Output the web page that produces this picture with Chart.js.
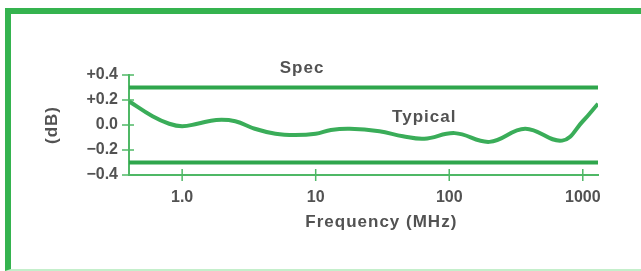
<!DOCTYPE html>
<html>
<head>
<meta charset="utf-8">
<script src="https://cdn.jsdelivr.net/npm/chart.js@4"></script>
<style>
  html, body { margin: 0; padding: 0; background: #fff; overflow: hidden; }
  #wrap { position: relative; width: 641px; height: 271px; }
  #frame {
    position: absolute; left: 5px; top: 8px; width: 700px; height: 255px;
    border-top: 6px solid #35b34f; border-left: 6px solid #35b34f;
    border-bottom: 2px solid #c4efcb;
  }
  canvas { position: absolute; left: 0; top: 0; }
</style>
</head>
<body>
<div id="wrap">
  <div id="frame"></div>
  <canvas id="chart" width="641" height="271"></canvas>
</div>
<script>
// frequency (MHz) and typical response (dB)
const freqs = [0.4, 0.6, 0.8, 1.0, 1.3, 1.8, 2.5, 3.5, 5, 7, 10, 13, 18, 30, 45, 65, 110, 200, 370, 700, 1000, 1300];
const typical = [0.19, 0.07, 0.01, -0.01, 0.01, 0.04, 0.03, -0.03, -0.07, -0.08, -0.07, -0.04, -0.03, -0.05, -0.09, -0.11, -0.065, -0.135, -0.03, -0.125, 0.03, 0.17];
const specLimits = [0.3, -0.3];
const xTickValues = [1, 10, 100, 1000];
const xTickLabels = ['1.0', '10', '100', '1000'];
const yTickValues = [-0.4, -0.2, 0, 0.2, 0.4];
const yTickLabels = ['\u22120.4', '\u22120.2', '0.0', '+0.2', '+0.4'];

const green = '#2fa64c';
const axisGreen = '#4fb866';
const textColor = '#525252';
const font = '"Liberation Sans", Arial, sans-serif';

// tick marks that cross the axis, plus the text labels
const crossTicks = {
  id: 'crossTicks',
  afterDraw(chart) {
    const { ctx, scales: { x, y }, chartArea } = chart;
    ctx.save();
    ctx.strokeStyle = axisGreen;
    ctx.lineWidth = 1.5;
    yTickValues.forEach(v => {
      const py = y.getPixelForValue(v);
      ctx.beginPath();
      ctx.moveTo(chartArea.left - 7, py);
      ctx.lineTo(chartArea.left + 5, py);
      ctx.stroke();
    });
    xTickValues.forEach(v => {
      const px = x.getPixelForValue(v);
      ctx.beginPath();
      ctx.moveTo(px, chartArea.bottom - 6);
      ctx.lineTo(px, chartArea.bottom + 6);
      ctx.stroke();
    });
    ctx.fillStyle = textColor;
    ctx.font = 'bold 17px ' + font;
    ctx.letterSpacing = '1px';
    ctx.textAlign = 'center';
    ctx.textBaseline = 'middle';
    ctx.fillText('Spec', x.getPixelForValue(7.9), y.getPixelForValue(0.45));
    ctx.fillText('Typical', x.getPixelForValue(65), y.getPixelForValue(0.065));
    ctx.fillText('Frequency (MHz)', x.getPixelForValue(31), 222);
    ctx.translate(52, y.getPixelForValue(0));
    ctx.rotate(-Math.PI / 2);
    ctx.fillText('(dB)', 0, 0);
    ctx.restore();
  }
};

new Chart(document.getElementById('chart'), {
  type: 'line',
  data: {
    datasets: [
      {
        label: 'Spec +',
        data: [{ x: freqs[0], y: specLimits[0] }, { x: freqs[freqs.length - 1], y: specLimits[0] }],
        borderColor: green, borderWidth: 4, pointRadius: 0
      },
      {
        label: 'Spec -',
        data: [{ x: freqs[0], y: specLimits[1] }, { x: freqs[freqs.length - 1], y: specLimits[1] }],
        borderColor: green, borderWidth: 4, pointRadius: 0
      },
      {
        label: 'Typical',
        data: freqs.map((f, i) => ({ x: f, y: typical[i] })),
        borderColor: '#3aad59', borderWidth: 4, pointRadius: 0,
        tension: 0.4
      }
    ]
  },
  options: {
    responsive: false,
    animation: false,
    layout: { padding: { left: 0, top: 75, right: 43, bottom: 0 } },
    plugins: { legend: { display: false }, tooltip: { enabled: false } },
    scales: {
      x: {
        type: 'logarithmic',
        min: 0.4, max: 1300,
        afterBuildTicks: s => { s.ticks = xTickValues.map(v => ({ value: v })); },
        afterFit: s => { s.height = 96; },
        ticks: {
          color: textColor, font: { family: font, size: 16, weight: 'bold' }, padding: 13,
          autoSkip: false, maxRotation: 0,
          callback: (v) => xTickLabels[xTickValues.indexOf(v)]
        },
        grid: { display: false, drawTicks: false },
        border: { color: axisGreen, width: 2 }
      },
      y: {
        min: -0.4, max: 0.4,
        afterBuildTicks: s => { s.ticks = yTickValues.map(v => ({ value: v })); },
        afterFit: s => { s.width = 129; },
        ticks: {
          color: textColor, font: { family: font, size: 16, weight: 'bold' }, padding: 11,
          callback: (v) => yTickLabels[yTickValues.findIndex(t => Math.abs(t - v) < 1e-9)]
        },
        grid: { display: false, drawTicks: false },
        border: { color: axisGreen, width: 2 }
      }
    }
  },
  plugins: [crossTicks]
});
</script>
</body>
</html>
